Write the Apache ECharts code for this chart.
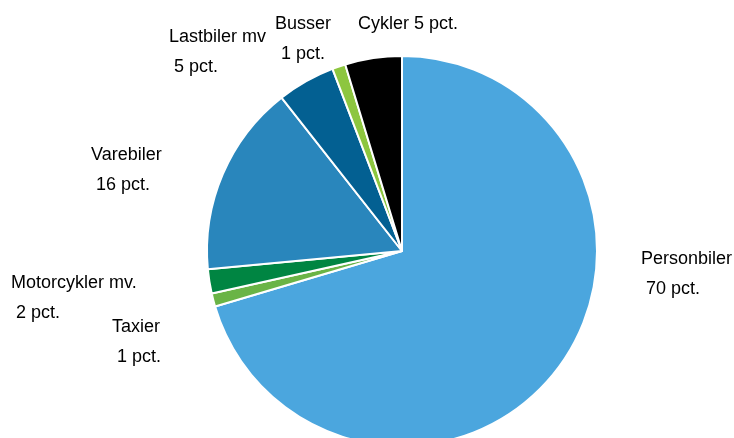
<!DOCTYPE html>
<html>
<head>
<meta charset="utf-8">
<style>
  html, body { margin: 0; padding: 0; background: #ffffff; }
  #chart { width: 734px; height: 438px; }
</style>
<script src="https://cdn.jsdelivr.net/npm/echarts@6/dist/echarts.min.js"></script>
</head>
<body>
<div id="chart"></div>
<script>
// Data (shares of total)
const categories = ['Personbiler', 'Taxier', 'Motorcykler mv.', 'Varebiler', 'Lastbiler mv', 'Busser', 'Cykler'];
const shares = [70.4, 1.1, 2.0, 15.9, 4.8, 1.1, 4.7];
const pctLabels = [70, 1, 2, 16, 5, 1, 5];
const colors = ['#4BA6DE', '#6AB446', '#008542', '#2986BC', '#036092', '#8DC63F', '#000000'];

// Label placement (styling/layout, not data)
const labelPlace = [
  { x: 641, y: 274, align: 'left', sep: '\n ' },
  { x: 112, y: 342, align: 'left', sep: '\n ' },
  { x: 11, y: 298, align: 'left', sep: '\n ' },
  { x: 91, y: 170, align: 'left', sep: '\n ' },
  { x: 169, y: 52, align: 'left', sep: '\n ' },
  { x: 303, y: 39, align: 'center', sep: '\n' },
  { x: 358, y: 24, align: 'left', sep: ' ' }
];

const chart = echarts.init(document.getElementById('chart'), null, { renderer: 'canvas' });
chart.setOption({
  animation: false,
  backgroundColor: '#ffffff',
  series: [{
    type: 'pie',
    center: [402, 251],
    radius: [0, 195],
    startAngle: 90,
    clockwise: true,
    avoidLabelOverlap: false,
    itemStyle: { borderColor: '#ffffff', borderWidth: 2 },
    label: {
      show: true,
      position: 'outside',
      fontFamily: 'Liberation Sans',
      fontSize: 18,
      lineHeight: 29.5,
      color: '#000000',
      formatter: function (p) {
        return p.name + labelPlace[p.dataIndex].sep + pctLabels[p.dataIndex] + ' pct.';
      }
    },
    labelLine: { show: false },
    labelLayout: function (p) {
      const lp = labelPlace[p.dataIndex];
      return { x: lp.x, y: lp.y, align: lp.align, verticalAlign: 'middle' };
    },
    emphasis: { disabled: true },
    data: categories.map(function (c, i) {
      return { name: c, value: shares[i], itemStyle: { color: colors[i] } };
    })
  }]
});
</script>
</body>
</html>
